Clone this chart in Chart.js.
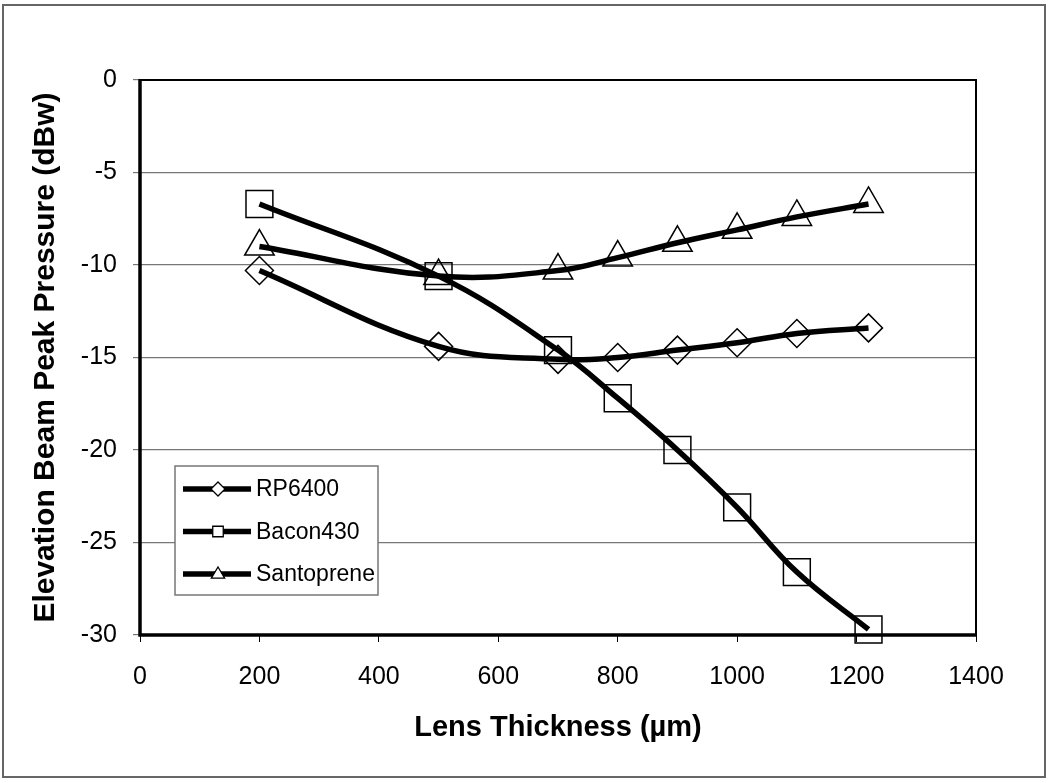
<!DOCTYPE html>
<html>
<head>
<meta charset="utf-8">
<script src="https://cdn.jsdelivr.net/npm/chart.js@4/dist/chart.umd.min.js"></script>
<style>
  html, body { margin: 0; padding: 0; background: #fff; }
  #wrap { position: absolute; left: 0; top: 0; width: 1050px; height: 783px; }
</style>
</head>
<body>
<div id="wrap"><canvas id="myChart" width="1050" height="783"></canvas></div>
<script>
'use strict'

// lens thickness (um) for each measured point
let thickness = [200, 500, 700, 800, 900, 1000, 1100, 1220];

let rp6400 = [-10.3, -14.4, -15.1, -15.0, -14.6, -14.2, -13.7, -13.4];
let bacon430 = [-6.7, -10.6, -14.6, -17.2, -20.0, -23.1, -26.6, -29.7];
let santoprene = [-9.0, -10.6, -10.3, -9.6, -8.8, -8.1, -7.4, -6.7];

let seriesNames = ['RP6400', 'Bacon430', 'Santoprene'];
let xTicks = [0, 200, 400, 600, 800, 1000, 1200, 1400];
let yTicks = [0, -5, -10, -15, -20, -25, -30];

let fontFam = '"Liberation Sans", Arial, sans-serif';

function toPoints(values) {
  let pts = [];
  for (let i = 0; i < thickness.length; i++) {
    pts.push({ x: thickness[i], y: values[i] });
  }
  return pts;
}

function makeSet(name, values, style, radius) {
  return {
    label: name,
    data: toPoints(values),
    borderColor: '#000',
    borderWidth: 5.5,
    tension: 0.4,
    pointStyle: style,
    pointRadius: radius,
    pointHoverRadius: radius,
    pointBorderColor: '#000',
    pointBorderWidth: 1.5,
    pointBackgroundColor: 'rgba(0,0,0,0)',
    clip: false
  };
}

// frame round the whole picture + box round the plot area
let framePlugin = {
  id: 'frame',
  afterDraw(chart) {
    let ctx = chart.ctx;
    let a = chart.chartArea;
    ctx.save();
    ctx.strokeStyle = '#000';
    ctx.lineWidth = 2;
    ctx.strokeRect(a.left, a.top, a.right - a.left, a.bottom - a.top);
    ctx.lineWidth = 3.5;
    ctx.beginPath();
    ctx.moveTo(a.left, a.top - 1);
    ctx.lineTo(a.left, a.bottom);
    ctx.lineTo(a.right + 1, a.bottom);
    ctx.stroke();
    ctx.strokeStyle = '#666';
    ctx.lineWidth = 2;
    ctx.strokeRect(3, 5, 1042, 772);
    ctx.restore();
  }
};

function drawMarker(ctx, style, x, y, r) {
  ctx.beginPath();
  if (style === 'rectRot') {
    ctx.moveTo(x, y - r); ctx.lineTo(x + r, y); ctx.lineTo(x, y + r); ctx.lineTo(x - r, y);
  } else if (style === 'rect') {
    ctx.rect(x - r * 0.75, y - r * 0.75, r * 1.5, r * 1.5);
  } else {
    ctx.moveTo(x, y - r); ctx.lineTo(x + r * 0.95, y + r * 0.6); ctx.lineTo(x - r * 0.95, y + r * 0.6);
  }
  ctx.closePath();
  ctx.fillStyle = '#fff';
  ctx.fill();
  ctx.stroke();
}

// Excel style legend sitting inside the plot
let legendBox = {
  id: 'legendBox',
  afterDraw(chart) {
    let ctx = chart.ctx;
    let a = chart.chartArea;
    let left = a.left + 35;
    let top = a.top + 386;
    ctx.save();
    ctx.fillStyle = '#fff';
    ctx.fillRect(left, top, 203, 129);
    ctx.strokeStyle = '#777';
    ctx.lineWidth = 1.5;
    ctx.strokeRect(left, top, 203, 129);
    ctx.font = '23px ' + fontFam;
    ctx.textBaseline = 'middle';
    chart.data.datasets.forEach(function (ds, i) {
      let y = top + 23 + i * 42.5;
      ctx.strokeStyle = '#000';
      ctx.lineWidth = 5.5;
      ctx.beginPath();
      ctx.moveTo(left + 8, y);
      ctx.lineTo(left + 76, y);
      ctx.stroke();
      ctx.lineWidth = 1.3;
      drawMarker(ctx, ds.pointStyle, left + 43, y, 7);
      ctx.fillStyle = '#000';
      ctx.fillText(ds.label, left + 81, y + 1);
    });
    ctx.restore();
  }
};

let ctx = document.getElementById('myChart').getContext('2d');

let chart = new Chart(ctx, {
  type: 'line',
  data: {
    datasets: [
      makeSet(seriesNames[0], rp6400, 'rectRot', 14),
      makeSet(seriesNames[1], bacon430, 'rect', 19),
      makeSet(seriesNames[2], santoprene, 'triangle', 17)
    ]
  },
  options: {
    responsive: false,
    animation: false,
    layout: { padding: { left: 0, top: 80, right: 74, bottom: 0 } },
    plugins: {
      legend: { display: false },
      tooltip: { enabled: false }
    },
    scales: {
      x: {
        type: 'linear',
        min: 0,
        max: 1400,
        afterBuildTicks(scale) { scale.ticks = xTicks.map(v => ({ value: v })); },
        afterFit(scale) { scale.height = 148; },
        grid: { drawOnChartArea: false, tickLength: 7, color: '#000', lineWidth: 1 },
        border: { display: false },
        ticks: { color: '#000', padding: 20, callback: v => String(v), font: { family: fontFam, size: 25 } },
        title: {
          display: true,
          text: 'Lens Thickness (\u00b5m)',
          color: '#000',
          padding: { top: 0, bottom: 38 },
          font: { family: fontFam, size: 29, weight: 'bold' }
        }
      },
      y: {
        min: -30,
        max: 0,
        afterBuildTicks(scale) { scale.ticks = yTicks.map(v => ({ value: v })); },
        afterFit(scale) { scale.width = 140; },
        grid: { color: '#777', lineWidth: 1.2, tickLength: 7 },
        border: { display: false },
        ticks: { color: '#000', padding: 16, font: { family: fontFam, size: 25 } },
        title: {
          display: true,
          text: 'Elevation Beam Peak Pressure (dBw)',
          color: '#000',
          padding: { top: 28, bottom: 0 },
          font: { family: fontFam, size: 30, weight: 'bold' }
        }
      }
    }
  },
  plugins: [framePlugin, legendBox]
});
</script>
</body>
</html>
